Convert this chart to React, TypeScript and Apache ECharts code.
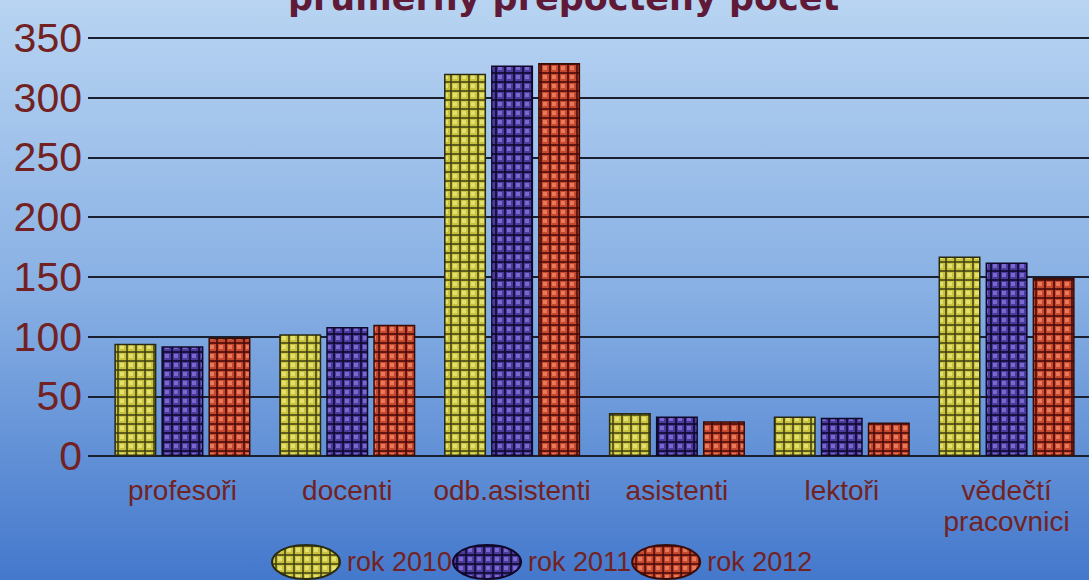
import React, { useEffect, useRef } from "react";
import * as echarts from "echarts";

const categories = ["profesoři", "docenti", "odb.asistenti", "asistenti", "lektoři", "vědečtí\npracovnici"];
const seriesNames = ["rok 2010", "rok 2011", "rok 2012"];
const values2010 = [94, 102, 320, 36, 33, 167];
const values2011 = [92, 108, 327, 33, 32, 162];
const values2012 = [99, 110, 329, 29, 28, 149];
const yTicks = [0, 50, 100, 150, 200, 250, 300, 350];
const titleText = "průměrný přepočtený počet";

function makePattern(base: string, line: string, hi: string): string {
  const c = document.createElement("canvas");
  c.width = 9;
  c.height = 9;
  const ctx = c.getContext("2d")!;
  ctx.fillStyle = base;
  ctx.fillRect(0, 0, 9, 9);
  ctx.fillStyle = hi;
  ctx.fillRect(3, 3, 4, 4);
  ctx.fillStyle = line;
  ctx.fillRect(0, 0, 9, 2);
  ctx.fillRect(0, 0, 2, 9);
  return c.toDataURL();
}

export default function App() {
  const ref = useRef<HTMLDivElement>(null);
  useEffect(() => {
    if (!ref.current) return;
    const chart = echarts.init(ref.current, undefined, { renderer: "svg" });
    const pats = [
      makePattern("#c9c43c", "rgba(60,60,20,0.75)", "#e4e070"),
      makePattern("#4a3a9c", "rgba(15,10,50,0.85)", "#7a68d0"),
      makePattern("#c8482e", "rgba(70,10,10,0.8)", "#e87a5a"),
    ];
    const borders = ["#2a2a10", "#100828", "#3a0c06"];
    const data = [values2010, values2011, values2012];
    const font = "'Liberation Sans', Arial, sans-serif";
    const textColor = "#722222";
    chart.setOption({
      animation: false,
      backgroundColor: {
        type: "linear",
        x: 0, y: 0, x2: 0, y2: 1,
        colorStops: [
          { offset: 0, color: "#b8d4f2" },
          { offset: 0.5, color: "#88b0e4" },
          { offset: 1, color: "#4478cc" },
        ],
      },
      title: {
        text: titleText,
        left: 283,
        top: -25,
        textStyle: {
          fontFamily: "'DejaVu Sans', sans-serif",
          fontWeight: "bold",
          fontSize: 35,
          color: "#5e1a36",
        },
      },
      legend: {
        bottom: -5,
        left: 266,
        itemWidth: 80,
        itemHeight: 34,
        itemGap: 0,
        icon: "path://M50,0 A50,25 0 1,1 49.9,0 Z",
        textStyle: { fontFamily: font, fontSize: 27, color: textColor, padding: [0, 0, 0, -4] },
        data: seriesNames,
      },
      grid: { left: 100, right: -7, top: 38, bottom: 124, containLabel: false },
      xAxis: {
        type: "category",
        data: categories,
        axisLine: { show: true, lineStyle: { color: "#1a2030", width: 2 } },
        axisTick: { show: false },
        axisLabel: {
          fontFamily: font,
          fontSize: 28,
          color: textColor,
          margin: 19,
          lineHeight: 31,
          interval: 0,
        },
      },
      yAxis: {
        type: "value",
        min: 0,
        max: 350,
        interval: 50,
        axisLine: { show: false },
        axisTick: { show: true, length: 12, lineStyle: { color: "#1a2030", width: 2 } },
        splitLine: { show: true, lineStyle: { color: "#1a2030", width: 2 } },
        axisLabel: {
          fontFamily: font,
          fontSize: 41,
          color: textColor,
          margin: 18,
          formatter: (v: number) => (yTicks.includes(v) ? String(v) : ""),
        },
      },
      series: seriesNames.map((name, i) => ({
        name,
        type: "bar",
        data: data[i],
        barWidth: 42,
        barGap: "12%",
        itemStyle: {
          color: { image: pats[i], repeat: "repeat" },
          borderColor: borders[i],
          borderWidth: 1.5,
        },
      })),
    });
    return () => chart.dispose();
  }, []);
  return (
    <div
      ref={ref}
      style={{ position: "absolute", left: 0, top: 0, width: 1089, height: 580 }}
    />
  );
}
